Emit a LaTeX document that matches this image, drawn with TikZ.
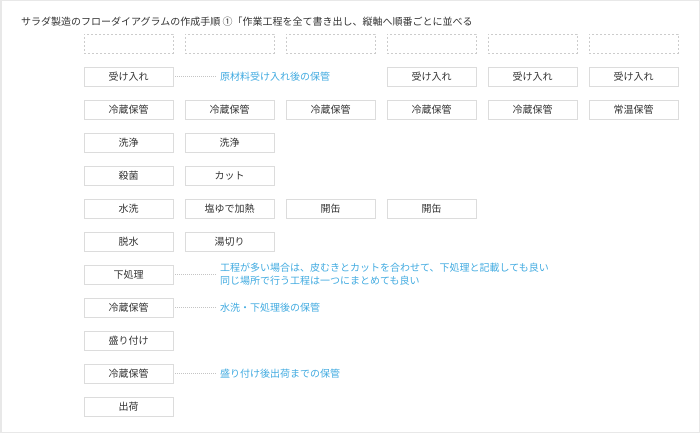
\documentclass[tikz,border=0pt]{standalone}
\usepackage{fontspec}
\setmainfont{Noto Sans CJK JP}
\definecolor{txt}{HTML}{333333}
\definecolor{boxline}{HTML}{DCDCDC}
\definecolor{dashline}{HTML}{CCCCCC}
\definecolor{note}{HTML}{40AAE0}
\definecolor{frame}{HTML}{E8E8E8}
\definecolor{conn}{HTML}{C4C4C4}
\begin{document}
\begin{tikzpicture}[x=1pt,y=-1pt,
  every node/.style={font=\fontsize{10}{13}\selectfont, text=txt},
  stepbox/.style={draw=boxline, line width=0.8pt, minimum width=89pt, minimum height=19pt, inner sep=0pt, fill=white},
  emptybox/.style={draw=dashline, line width=0.8pt, dash pattern=on 2pt off 2pt, minimum width=89pt, minimum height=19pt, inner sep=0pt},
  notetext/.style={text=note, anchor=west, inner sep=0pt, align=left},
  conline/.style={draw=conn, line width=0.5pt, dash pattern=on 1pt off 1pt}
]
\useasboundingbox (0,0) rectangle (700,433);
\draw[frame, line width=1.5pt] (0.75,0.75) rectangle (699.25,432.25);
\node[anchor=west, inner sep=0pt] (title) at (21,22) {サラダ製造のフローダイアグラムの作成手順 ①「作業工程を全て書き出し、縦軸へ順番ごとに並べる};
% row 0 dashed
\foreach \i/\x in {1/128.5,2/229.5,3/330.5,4/431.5,5/532.5,6/633.5}{
  \node[emptybox] (e\i) at (\x,43.5) {};
}
% row 1
\node[stepbox] (a1) at (128.5,76.5) {受け入れ};
\node[stepbox] (a4) at (431.5,76.5) {受け入れ};
\node[stepbox] (a5) at (532.5,76.5) {受け入れ};
\node[stepbox] (a6) at (633.5,76.5) {受け入れ};
% row 2
\node[stepbox] (b1) at (128.5,109.5) {冷蔵保管};
\node[stepbox] (b2) at (229.5,109.5) {冷蔵保管};
\node[stepbox] (b3) at (330.5,109.5) {冷蔵保管};
\node[stepbox] (b4) at (431.5,109.5) {冷蔵保管};
\node[stepbox] (b5) at (532.5,109.5) {冷蔵保管};
\node[stepbox] (b6) at (633.5,109.5) {常温保管};
% row 3
\node[stepbox] (c1) at (128.5,142.5) {洗浄};
\node[stepbox] (c2) at (229.5,142.5) {洗浄};
% row 4
\node[stepbox] (d1) at (128.5,175.5) {殺菌};
\node[stepbox] (d2) at (229.5,175.5) {カット};
% row 5
\node[stepbox] (f1) at (128.5,208.5) {水洗};
\node[stepbox] (f2) at (229.5,208.5) {塩ゆで加熱};
\node[stepbox] (f3) at (330.5,208.5) {開缶};
\node[stepbox] (f4) at (431.5,208.5) {開缶};
% row 6
\node[stepbox] (g1) at (128.5,241.5) {脱水};
\node[stepbox] (g2) at (229.5,241.5) {湯切り};
% rows 7-11
\node[stepbox] (h1) at (128.5,274.5) {下処理};
\node[stepbox] (i1) at (128.5,307.5) {冷蔵保管};
\node[stepbox] (j1) at (128.5,340.5) {盛り付け};
\node[stepbox] (k1) at (128.5,373.5) {冷蔵保管};
\node[stepbox] (l1) at (128.5,406.5) {出荷};
% notes
\node[notetext] (n1) at (220,76.5) {原材料受け入れ後の保管};
\node[notetext] (n2) at (220,274.5) {工程が多い場合は、皮むきとカットを合わせて、下処理と記載しても良い\\同じ場所で行う工程は一つにまとめても良い};
\node[notetext] (n3) at (220,307.5) {水洗・下処理後の保管};
\node[notetext] (n4) at (220,373.5) {盛り付け後出荷までの保管};
% connectors
\draw[conline, shorten <=2pt, shorten >=3pt] (a1.east) -- (n1.west);
\draw[conline, shorten <=2pt, shorten >=3pt] (h1.east) -- (n2.west);
\draw[conline, shorten <=2pt, shorten >=3pt] (i1.east) -- (n3.west);
\draw[conline, shorten <=2pt, shorten >=3pt] (k1.east) -- (n4.west);
\end{tikzpicture}
\end{document}
